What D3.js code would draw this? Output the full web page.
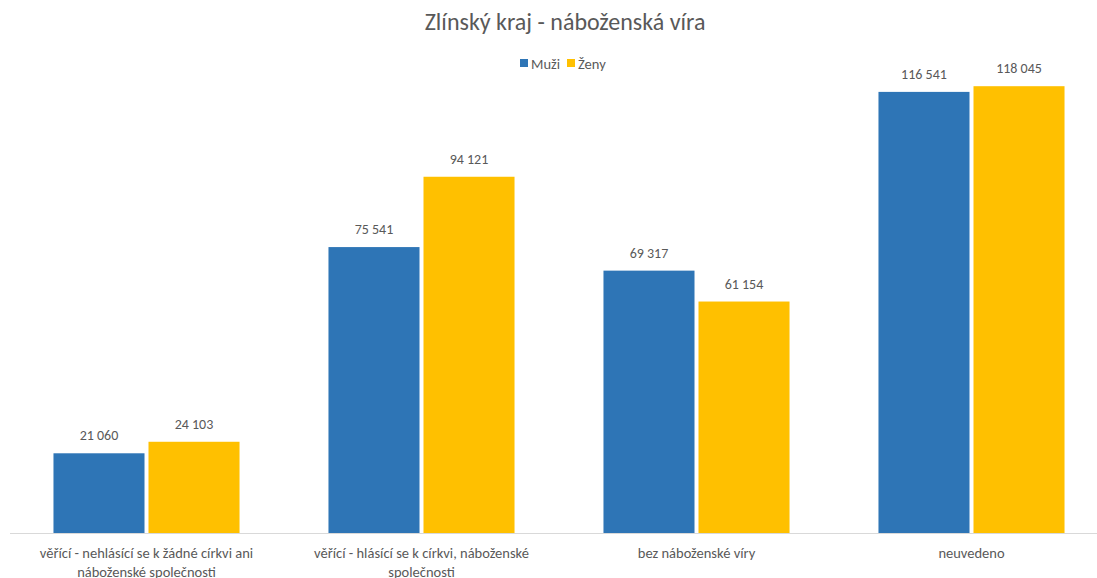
<!DOCTYPE html>
<html><head><meta charset="utf-8">
<script src="https://cdn.jsdelivr.net/npm/d3@7"></script>
<style>body{margin:0;background:#fff}svg{display:block}text{font-family:Carlito,Lato,"Open Sans",sans-serif}</style>
</head><body>
<svg id="c" width="1097" height="578"></svg>
<script>
const categories = ["věřící - nehlásící se k žádné církvi ani náboženské společnosti","věřící - hlásící se k církvi, náboženské společnosti","bez náboženské víry","neuvedeno"];
const seriesNames = ["Muži","Ženy"];
const muzi = [21060, 75541, 69317, 116541];
const zeny = [24103, 94121, 61154, 118045];
const colors = ["#2E75B6","#FFC000"];
const title = "Zlínský kraj - náboženská víra";

const svg = d3.select("#c");
const W = 1097, H = 578;
const x0 = d3.scaleBand().domain(categories).range([9, 1109]).paddingInner(0).paddingOuter(0);
const x1 = d3.scaleBand().domain(seriesNames).range([0, 275]).paddingInner(0.042).paddingOuter(0.468);
const y = d3.scaleLinear().domain([0, 120000]).range([533, 78.8]);
const fmt = v => d3.format(",")(v).replace(/,/g, " ");
const series = [muzi, zeny];

svg.append("text").attr("x", 565).attr("y", 30).attr("text-anchor","middle")
  .attr("font-size", 24).attr("fill","#595959").text(title);

// legend
const lg = svg.append("g");
[[520,"Muži"],[567,"Ženy"]].forEach((d,i)=>{
  lg.append("rect").attr("x", d[0]).attr("y", 59).attr("width", 8).attr("height", 8).attr("fill", colors[i]);
  lg.append("text").attr("x", d[0]+11).attr("y", 68.5).attr("font-size", 14.5).attr("fill","#595959").text(seriesNames[i]);
});

const g = svg.append("g");
categories.forEach((c, ci) => {
  series.forEach((s, si) => {
    const bx = x0(c) + x1(seriesNames[si]);
    const bw = x1.bandwidth();
    g.append("rect").attr("x", bx).attr("y", y(s[ci])).attr("width", bw).attr("height", y(0) - y(s[ci])).attr("fill", colors[si]);
    g.append("text").attr("x", bx + bw/2).attr("y", y(s[ci]) - 13).attr("text-anchor","middle")
      .attr("font-size", 14).attr("fill","#595959").text(fmt(s[ci]));
  });
});

svg.append("line").attr("x1", 10).attr("x2", W).attr("y1", 533.5).attr("y2", 533.5).attr("stroke","#D9D9D9").attr("stroke-width",1);

// category labels with wrapping
function wrapLines(text, width, size){
  const ctx = document.createElement("canvas").getContext("2d");
  ctx.font = size + "px Carlito, Lato, sans-serif";
  const words = text.split(" "); const lines=[]; let cur="";
  words.forEach(w=>{ const t = cur ? cur+" "+w : w; if (ctx.measureText(t).width > width && cur){ lines.push(cur); cur=w;} else cur=t; });
  if (cur) lines.push(cur); return lines;
}
categories.forEach(c => {
  const lines = wrapLines(c, 245, 14.5);
  const t = svg.append("text").attr("x", x0(c) + x0.bandwidth()/2).attr("y", 558).attr("text-anchor","middle")
    .attr("font-size", 14.5).attr("fill","#595959");
  lines.forEach((l,i)=> t.append("tspan").attr("x", x0(c) + x0.bandwidth()/2).attr("dy", i ? 19 : 0).text(l));
});
</script>
</body></html>
